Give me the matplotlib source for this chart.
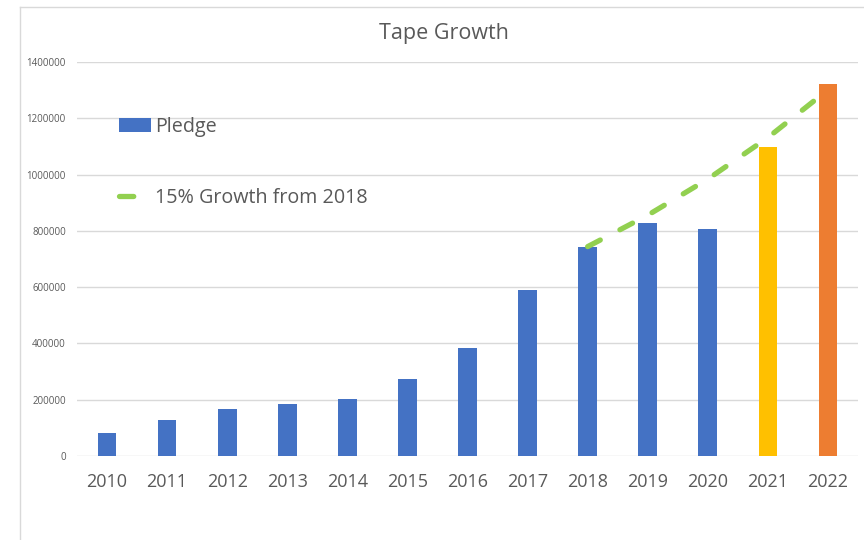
import matplotlib
matplotlib.use("Agg")
import matplotlib.pyplot as plt
from matplotlib.lines import Line2D

years = ["2010", "2011", "2012", "2013", "2014", "2015", "2016",
         "2017", "2018", "2019", "2020", "2021", "2022"]
pledge = [80000, 128000, 168000, 185000, 203000, 274000, 384000,
          590000, 744000, 829000, 807000, 1099000, 1321000]
bar_colors = ["#4472C4"] * 11 + ["#FFC000", "#ED7D31"]
growth_years = ["2018", "2019", "2020", "2021", "2022"]
growth = [744000, 855600, 983900, 1131500, 1301200]
yticks = [0, 200000, 400000, 600000, 800000, 1000000, 1200000, 1400000]

plt.rcParams['font.family'] = ['Open Sans', 'DejaVu Sans']
txt = "#595959"

fig = plt.figure(figsize=(8.64, 5.4), dpi=100)
ax = fig.add_axes([77/864, 1-456/540, 781/864, 394/540])

x = list(range(len(years)))
bars = ax.bar(x, pledge, width=0.31, color=bar_colors, label="Pledge", zorder=2)
gx = [years.index(y) for y in growth_years]
line, = ax.plot(gx, growth, color="#92D050", lw=3.8, dashes=(2.7, 4.2),
                dash_capstyle="round", label="15% Growth from 2018", zorder=3)

ax.set_xlim(-0.5, len(years) - 0.5)
ax.set_ylim(0, 1400000)
ax.set_yticks(yticks)
ax.set_yticklabels([str(v) for v in yticks], fontsize=7, color=txt)
ax.set_xticks(x)
ax.set_xticklabels(years, fontsize=13, color=txt)
ax.tick_params(axis='both', length=0)
ax.tick_params(axis='y', pad=8)
ax.tick_params(axis='x', pad=12)
for s in ax.spines.values():
    s.set_visible(False)
ax.grid(axis='y', color="#D9D9D9", lw=1.0, zorder=0)
ax.set_axisbelow(True)

leg = ax.legend([bars, line], ["Pledge", "15% Growth from 2018"],
                loc="upper left", bbox_to_anchor=(119/864, 1-117/540),
                bbox_transform=fig.transFigure, frameon=False, fontsize=14.2,
                labelcolor=txt, handlelength=1.6, handletextpad=0.22,
                labelspacing=2.6, borderpad=0, borderaxespad=0)

fig.text(444/864, 1-39/540, "Tape Growth", ha="center", va="baseline",
         fontsize=15.5, color=txt)

fig.add_artist(Line2D([20/864, 20/864], [0, 1-7/540], transform=fig.transFigure,
                      color="#D9D9D9", lw=1))
fig.add_artist(Line2D([20/864, 1], [1-7/540, 1-7/540], transform=fig.transFigure,
                      color="#D9D9D9", lw=1))

fig.savefig("out.png", dpi=100, facecolor="white")
